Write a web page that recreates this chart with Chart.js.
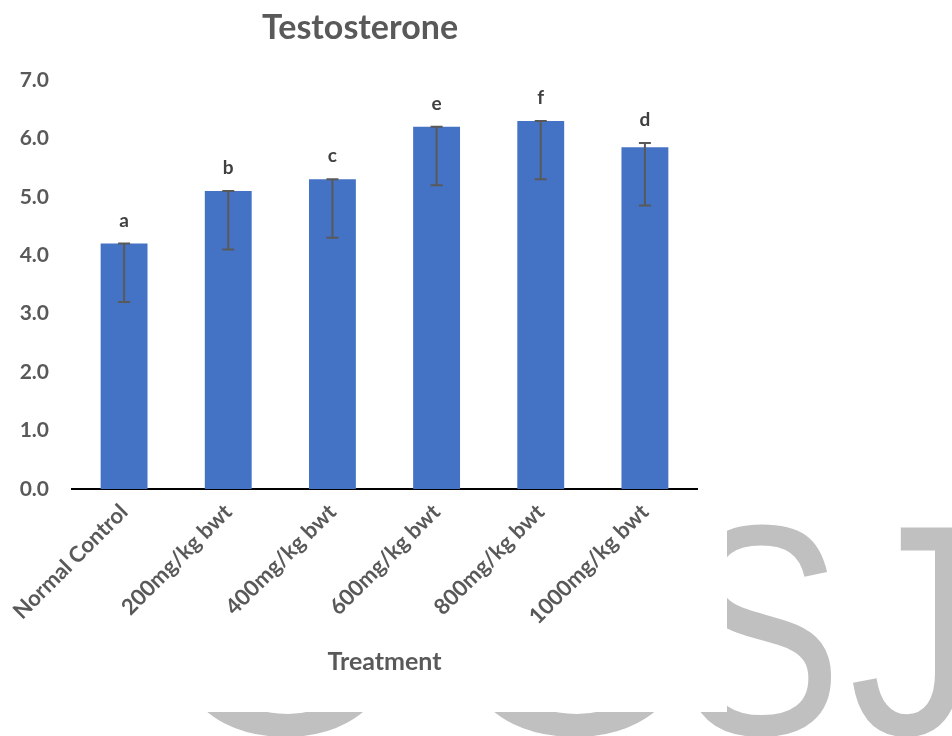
<!DOCTYPE html>
<html>
<head>
<meta charset="utf-8">
<script src="https://cdn.jsdelivr.net/npm/chart.js@4"></script>
<style>
  html, body { margin: 0; padding: 0; background: #fff; }
  canvas { display: block; }
</style>
</head>
<body>
<canvas id="chart" width="952" height="736"></canvas>
<script>
// Treatment groups and mean serum testosterone
const categories = ['Normal Control', '200mg/kg bwt', '400mg/kg bwt', '600mg/kg bwt', '800mg/kg bwt', '1000mg/kg bwt'];
const testosterone = [4.2, 5.1, 5.3, 6.2, 6.3, 5.85];
// Error bar ends (lower / upper whisker values)
const errorLow = [3.2, 4.1, 4.3, 5.2, 5.3, 4.85];
const errorHigh = [4.2, 5.1, 5.3, 6.2, 6.3, 5.92];
// Significance group letters shown above each bar
const groupLetters = ['a', 'b', 'c', 'e', 'f', 'd'];
const yTicks = [0, 1, 2, 3, 4, 5, 6, 7];
const chartTitle = 'Testosterone';

const TEXT_GRAY = '#595959';

// Page background with the faint journal mark behind the white chart panel
const background = {
  id: 'background',
  beforeDraw(chart) {
    const ctx = chart.ctx;
    ctx.save();
    ctx.fillStyle = '#ffffff';
    ctx.fillRect(0, 0, chart.width, chart.height);
    ctx.fillStyle = '#c0c0c0';
    ctx.font = '300px "Liberation Sans"';
    ctx.textAlign = 'left';
    ctx.textBaseline = 'alphabetic';
    const baseline = 734;
    // each glyph is stretched horizontally over the span [left, right]
    const glyphs = [
      { ch: 'C', left: 172, right: 388 },
      { ch: 'C', left: 458, right: 680 },
      { ch: 'S', left: 686, right: 832 },
      { ch: 'J', left: 853, right: 962 }
    ];
    glyphs.forEach(g => {
      const m = ctx.measureText(g.ch);
      const sx = (g.right - g.left) / (m.actualBoundingBoxLeft + m.actualBoundingBoxRight);
      ctx.save();
      ctx.translate(g.left + m.actualBoundingBoxLeft * sx, baseline);
      ctx.scale(sx, 1);
      ctx.fillText(g.ch, 0, 0);
      ctx.restore();
    });
    ctx.fillStyle = '#ffffff';
    ctx.fillRect(0, 0, 727, 712);
    ctx.restore();
  }
};

// Chart heading
const heading = {
  id: 'heading',
  afterDraw(chart) {
    const ctx = chart.ctx;
    ctx.save();
    ctx.fillStyle = TEXT_GRAY;
    ctx.font = 'bold 34px Lato';
    ctx.textAlign = 'center';
    ctx.textBaseline = 'alphabetic';
    ctx.fillText(chartTitle, 360, 39);
    ctx.restore();
  }
};

// Error bars and group letters drawn on top of the bars
const errorBars = {
  id: 'errorBars',
  afterDatasetsDraw(chart) {
    const ctx = chart.ctx;
    const meta = chart.getDatasetMeta(0);
    const y = chart.scales.y;
    ctx.save();
    meta.data.forEach((bar, i) => {
      const x = bar.x;
      const yl = y.getPixelForValue(errorLow[i]);
      const yh = y.getPixelForValue(errorHigh[i]);
      ctx.strokeStyle = '#595959';
      ctx.lineWidth = 2;
      ctx.beginPath();
      ctx.moveTo(x, yh); ctx.lineTo(x, yl);
      ctx.moveTo(x - 6, yh); ctx.lineTo(x + 6, yh);
      ctx.moveTo(x - 6, yl); ctx.lineTo(x + 6, yl);
      ctx.stroke();
      ctx.fillStyle = '#404040';
      ctx.font = 'bold 19px Lato';
      ctx.textAlign = 'center';
      ctx.textBaseline = 'alphabetic';
      ctx.fillText(groupLetters[i], x, yh - 17);
    });
    ctx.restore();
  }
};

new Chart(document.getElementById('chart'), {
  type: 'bar',
  data: {
    labels: categories,
    datasets: [{
      data: testosterone,
      backgroundColor: '#4472C4',
      barPercentage: 0.9,
      categoryPercentage: 0.5
    }]
  },
  options: {
    responsive: false,
    animation: false,
    devicePixelRatio: 1,
    layout: { padding: { left: 0, right: 255, top: 80, bottom: 59 } },
    plugins: {
      legend: { display: false },
      tooltip: { enabled: false },
      title: { display: false }
    },
    scales: {
      x: {
        grid: { display: false, drawTicks: false },
        border: { display: true, color: '#000000', width: 2 },
        ticks: {
          color: TEXT_GRAY,
          font: { family: 'Lato', size: 22, weight: 'bold' },
          minRotation: 45,
          maxRotation: 45,
          autoSkip: false,
          padding: 10
        },
        title: {
          display: true,
          text: 'Treatment',
          color: TEXT_GRAY,
          font: { family: 'Lato', size: 25, weight: 'bold' },
          padding: 0
        },
        afterFit(scale) { scale.height = 188; }
      },
      y: {
        min: 0,
        max: 7,
        grid: { display: false, drawTicks: false },
        border: { display: false },
        afterBuildTicks(scale) { scale.ticks = yTicks.map(v => ({ value: v })); },
        ticks: {
          color: TEXT_GRAY,
          font: { family: 'Lato', size: 21, weight: 'bold' },
          padding: 23,
          callback: v => Number(v).toFixed(1)
        },
        afterFit(scale) { scale.width = 72; }
      }
    }
  },
  plugins: [background, errorBars, heading]
});
</script>
</body>
</html>
